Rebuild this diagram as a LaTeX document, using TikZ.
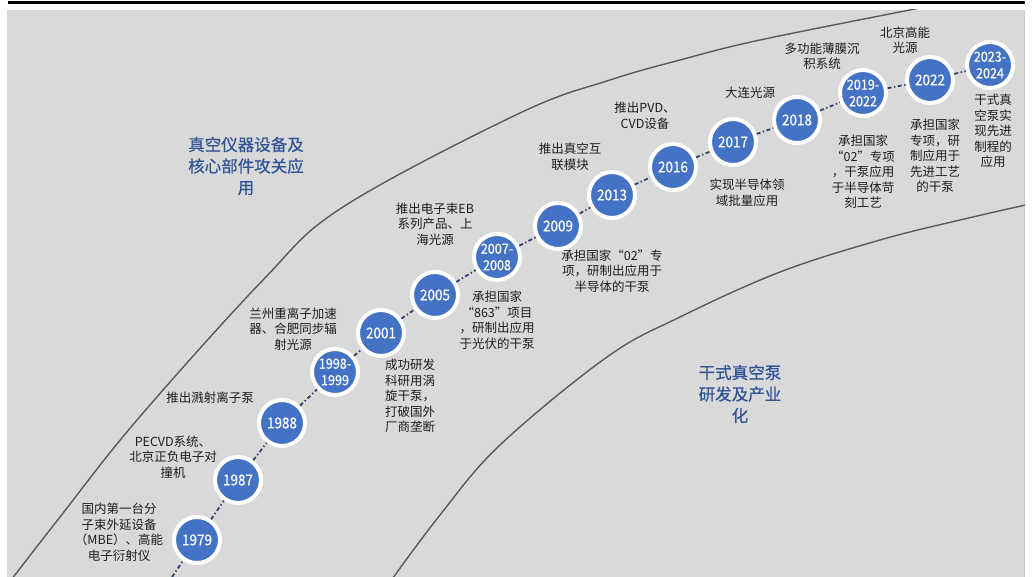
\documentclass[tikz,border=0pt]{standalone}
\usepackage{fontspec}
\setmainfont{Noto Sans CJK SC}
\newfontfamily\heavyfont[FakeBold=0.6]{Noto Sans CJK SC}
\newfontfamily\yrfont[FakeBold=0.4,FakeStretch=0.9]{Noto Sans CJK SC}
\usetikzlibrary{shadows}
\definecolor{bggray}{HTML}{D9D9D9}
\definecolor{yrblue}{HTML}{4472C4}
\definecolor{titleblue}{HTML}{2F5597}
\definecolor{connc}{HTML}{2F4468}
\definecolor{curvec}{HTML}{5A5A5A}
\definecolor{lblc}{HTML}{1E1E1E}
\tikzset{
  yr/.style={circle, fill=yrblue, draw=white, line width=4pt, minimum size=46pt, inner sep=0pt,
    text=white, align=center, font=\yrfont\fontsize{15}{16}\selectfont,
    drop shadow={shadow xshift=0.8pt, shadow yshift=-1pt, opacity=0.25, fill=black}},
  yrtwo/.style={yr, font=\yrfont\fontsize{14}{16.5}\selectfont},
  conn/.style={draw=connc, line width=1.8pt, dash pattern=on 4pt off 2.5pt on 1.4pt off 2.5pt},
  lbl/.style={align=center, inner sep=0pt, text=lblc, font=\fontsize{12.5}{15.5}\selectfont},
  ttl/.style={align=center, inner sep=0pt, text=titleblue, font=\heavyfont\fontsize{16.5}{21.5}\selectfont},
  curveline/.style={draw=curvec, line width=1.4pt}
}
\begin{document}
\begin{tikzpicture}[x=1pt,y=-1pt]
\useasboundingbox (0,0) rectangle (1032,577);
% background
\fill[bggray] (7,10) rectangle (1025,577);
\draw[black!20, line width=0.8pt] (1024.6,10) -- (1024.6,577);
\draw[black, line width=3pt] (8,2.5) -- (1025,2.5);
% curves
\begin{scope}
\clip (7,10) rectangle (1025,577);
\draw[curveline] plot[smooth, tension=0.6] coordinates {(8,584) (60,517) (137,420) (263,280) (343,207) (520,113) (610,80) (680,60) (760,40) (920,8)};
\draw[curveline] plot[smooth, tension=0.6] coordinates {(390,582) (440,515) (500,445) (607,357) (680,317) (780,272) (880,240) (960,220) (1030,204)};
\end{scope}
% titles
\node[ttl] (t1) at (246,166) {真空仪器设备及\\核心部件攻关应\\用};
\node[ttl] (t2) at (740,394) {干式真空泵\\研发及产业\\化};
% year circles
\node[yr] (y1979) at (197,540) {1979};
\node[yr] (y1987) at (238,480) {1987};
\node[yr] (y1988) at (282,423) {1988};
\node[yrtwo] (y1998) at (335,372) {1998-\\1999};
\node[yr] (y2001) at (381,333) {2001};
\node[yr] (y2005) at (435,295) {2005};
\node[yrtwo] (y2007) at (497,257) {2007-\\2008};
\node[yr] (y2009) at (558,226) {2009};
\node[yr] (y2013) at (612,195) {2013};
\node[yr] (y2016) at (673,167) {2016};
\node[yr] (y2017) at (733,142) {2017};
\node[yr] (y2018) at (797,120) {2018};
\node[yrtwo] (y2019) at (863,93) {2019-\\2022};
\node[yr] (y2022) at (930,80) {2022};
\node[yrtwo] (y2023) at (990,65) {2023-\\2024};
% connectors
\coordinate (cstart) at (172,577);
\draw[conn] (cstart) -- (y1979);
\draw[conn] (y1979) -- (y1987);
\draw[conn] (y1987) -- (y1988);
\draw[conn] (y1988) -- (y1998);
\draw[conn] (y1998) -- (y2001);
\draw[conn] (y2001) -- (y2005);
\draw[conn] (y2005) -- (y2007);
\draw[conn] (y2007) -- (y2009);
\draw[conn] (y2009) -- (y2013);
\draw[conn] (y2013) -- (y2016);
\draw[conn] (y2016) -- (y2017);
\draw[conn] (y2017) -- (y2018);
\draw[conn] (y2018) -- (y2019);
\draw[conn] (y2019) -- (y2022);
\draw[conn] (y2022) -- (y2023);
% labels
\node[lbl] (l1979) at (119,532) {国内第一台分\\子束外延设备\\（MBE）、高能\\电子衍射仪};
\node[lbl] (l1987) at (173,457) {PECVD系统、\\北京正负电子对\\撞机};
\node[lbl] (l1988) at (210,398) {推出溅射离子泵};
\node[lbl] (l1998) at (293,329) {兰州重离子加速\\器、合肥同步辐\\射光源};
\node[lbl] (l2001) at (410,396) {成功研发\\科研用涡\\旋干泵，\\打破国外\\厂商垄断};
\node[lbl] (l2005) at (435,224) {推出电子束EB\\系列产品、上\\海光源};
\node[lbl] (l2007) at (497,320) {承担国家\\“863”项目\\，研制出应用\\于光伏的干泵};
\node[lbl] (l2009) at (612,271) {承担国家“02”专\\项，研制出应用于\\半导体的干泵};
\node[lbl] (l2013) at (570,157) {推出真空互\\联模块};
\node[lbl] (l2016) at (645,116) {推出PVD、\\CVD设备};
\node[lbl] (l2017a) at (750,93) {大连光源};
\node[lbl] (l2017b) at (747,193) {实现半导体领\\域批量应用};
\node[lbl] (l2019a) at (822,56) {多功能薄膜沉\\积系统};
\node[lbl] (l2019b) at (863,172) {承担国家\\“02”专项\\，干泵应用\\于半导体苛\\刻工艺};
\node[lbl] (l2022a) at (905,40) {北京高能\\光源};
\node[lbl] (l2022b) at (935,156) {承担国家\\专项，研\\制应用于\\先进工艺\\的干泵};
\node[lbl] (l2023) at (993,131) {干式真\\空泵实\\现先进\\制程的\\应用};
\end{tikzpicture}
\end{document}
